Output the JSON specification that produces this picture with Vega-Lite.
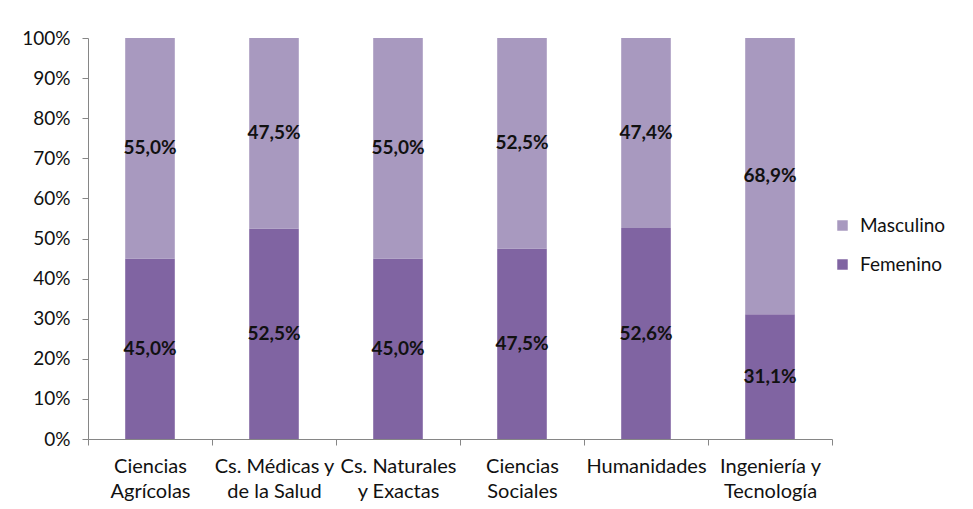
{
  "$schema": "https://vega.github.io/schema/vega-lite/v6.json",
  "width": 744,
  "height": 401,
  "autosize": {"type": "none"},
  "padding": {"left": 88, "top": 38, "right": 141, "bottom": 70},
  "background": "white",
  "config": {
    "view": {"stroke": null},
    "font": "Lato",
    "locale": {"number": {"decimal": ",", "thousands": ".", "grouping": [3], "currency": ["", " €"]}}
  },
  "data": {
    "values": [
      {"area": "Ciencias\nAgrícolas", "sexo": "Femenino", "pct": 0.450},
      {"area": "Ciencias\nAgrícolas", "sexo": "Masculino", "pct": 0.550},
      {"area": "Cs. Médicas y\nde la Salud", "sexo": "Femenino", "pct": 0.525},
      {"area": "Cs. Médicas y\nde la Salud", "sexo": "Masculino", "pct": 0.475},
      {"area": "Cs. Naturales\ny Exactas", "sexo": "Femenino", "pct": 0.450},
      {"area": "Cs. Naturales\ny Exactas", "sexo": "Masculino", "pct": 0.550},
      {"area": "Ciencias\nSociales", "sexo": "Femenino", "pct": 0.475},
      {"area": "Ciencias\nSociales", "sexo": "Masculino", "pct": 0.525},
      {"area": "Humanidades", "sexo": "Femenino", "pct": 0.526},
      {"area": "Humanidades", "sexo": "Masculino", "pct": 0.474},
      {"area": "Ingeniería y\nTecnología", "sexo": "Femenino", "pct": 0.311},
      {"area": "Ingeniería y\nTecnología", "sexo": "Masculino", "pct": 0.689}
    ]
  },
  "encoding": {
    "x": {
      "field": "area",
      "type": "nominal",
      "sort": null,
      "scale": {"paddingInner": 0, "paddingOuter": 0},
      "axis": {
        "title": null,
        "labelAngle": 0,
        "labelExpr": "isValid(datum.value) ? split(datum.value, '\\n') : ''",
        "labelFontSize": 20,
        "labelColor": "#111111",
        "labelLineHeight": 25,
        "labelPadding": 11,
        "labelBaseline": "top",
        "tickBand": "extent",
        "tickSize": 6,
        "tickColor": "#868686",
        "domainColor": "#868686",
        "labelLimit": 200
      }
    },
    "y": {
      "field": "pct",
      "type": "quantitative",
      "stack": "zero",
      "scale": {"domain": [0, 1]},
      "axis": {
        "title": null,
        "format": ".0%",
        "values": [0, 0.1, 0.2, 0.3, 0.4, 0.5, 0.6, 0.7, 0.8, 0.9, 1],
        "grid": false,
        "labelFontSize": 19,
        "labelColor": "#111111",
        "labelPadding": 12,
        "tickSize": 6,
        "tickColor": "#868686",
        "domainColor": "#868686"
      }
    },
    "order": {"field": "sexo", "sort": "ascending"}
  },
  "layer": [
    {
      "mark": {"type": "bar", "width": {"band": 0.4}},
      "encoding": {
        "color": {
          "field": "sexo",
          "type": "nominal",
          "scale": {"domain": ["Masculino", "Femenino"], "range": ["#A899BF", "#8064A2"]},
          "legend": {
            "title": null,
            "orient": "none",
            "legendX": 745,
            "legendY": 178,
            "symbolType": "square",
            "symbolSize": 110,
            "symbolStrokeWidth": 0,
            "labelFontSize": 19,
            "labelColor": "#111111",
            "labelOffset": 8,
            "rowPadding": 19
          }
        }
      }
    },
    {
      "mark": {"type": "text", "fontWeight": "bold", "fontSize": 19, "color": "#111111"},
      "encoding": {
        "y": {"field": "pct", "type": "quantitative", "stack": "zero", "bandPosition": 0.5},
        "text": {"field": "pct", "type": "quantitative", "format": ".1%"}
      }
    }
  ]
}
